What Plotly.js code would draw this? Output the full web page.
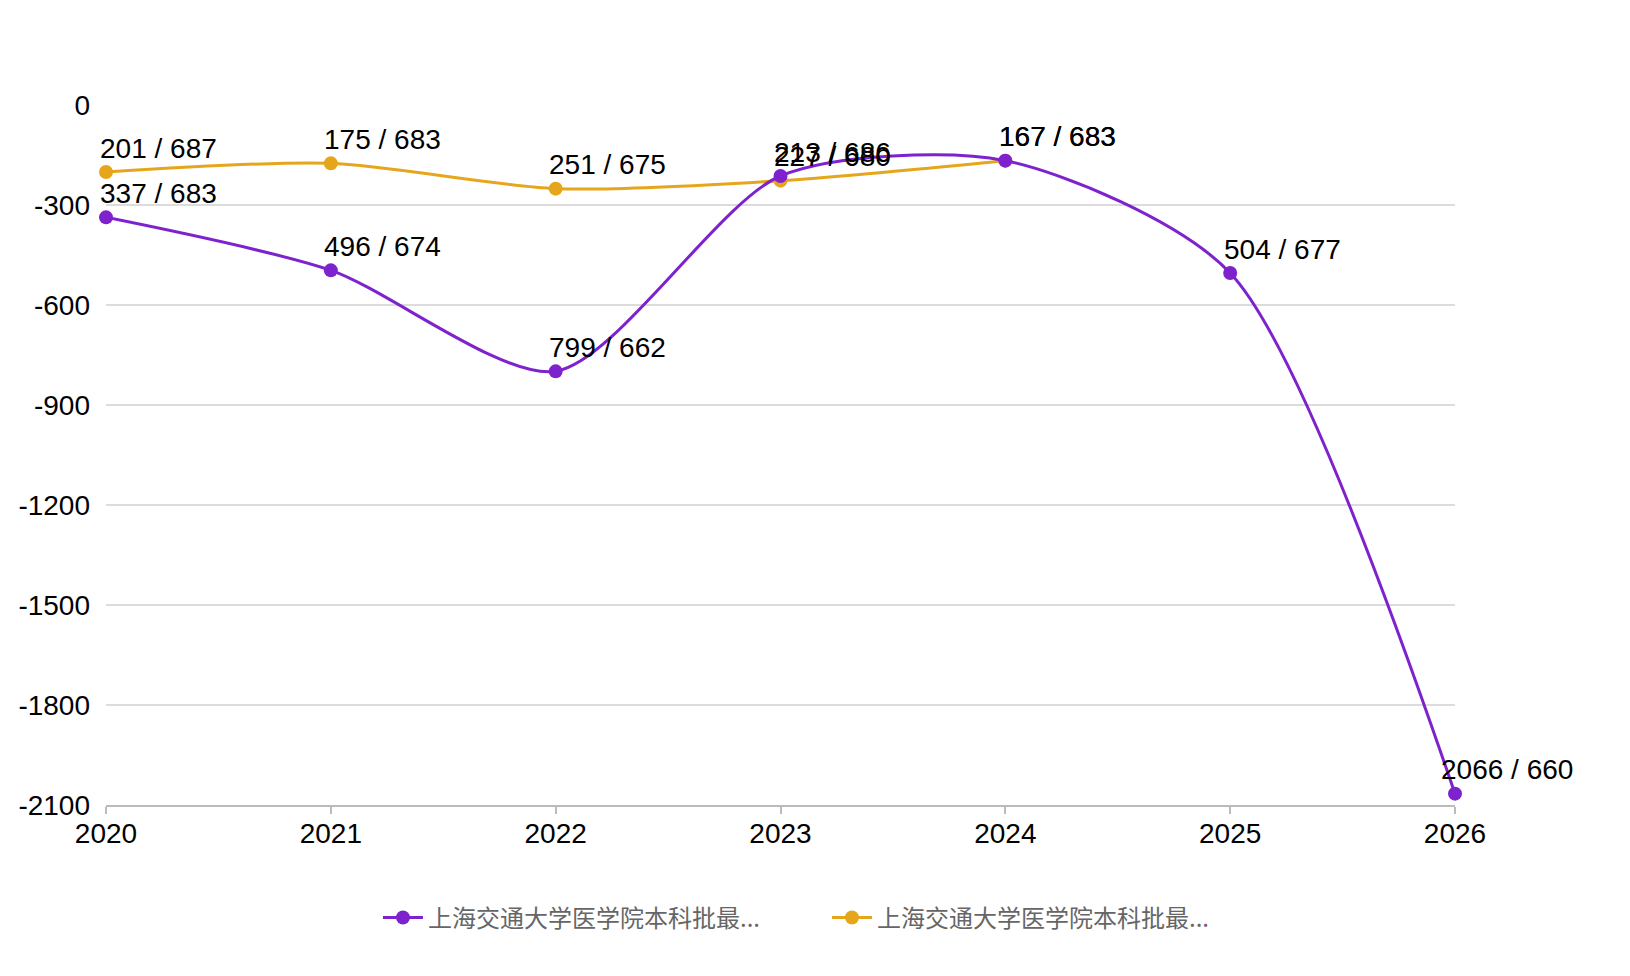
<!DOCTYPE html>
<html>
<head>
<meta charset="utf-8">
<script src="https://cdn.plot.ly/plotly-3.0.1.min.js"></script>
<style>
  html, body { margin: 0; padding: 0; background: #fff; }
  #chart { width: 1630px; height: 976px; }
</style>
</head>
<body>
<div id="chart"></div>
<script>
// années
const years = [2020, 2021, 2022, 2023, 2024, 2025, 2026];

// série 1 : rang (affiché en négatif) et score
const name1 = '上海交通大学医学院本科批最...';
const rank1 = [337, 496, 799, 213, 167, 504, 2066];
const score1 = [683, 674, 662, 686, 683, 677, 660];

// série 2
const name2 = '上海交通大学医学院本科批最...';
const rank2 = [201, 175, 251, 227, 167];
const score2 = [687, 683, 675, 680, 683];

// graduations de l'axe y
const yTicks = [0, -300, -600, -900, -1200, -1500, -1800, -2100];

const purple = '#7e22ce';
const gold = '#e6a61c';

function trace(name, ranks, color, rank) {
    return {
        x: years.slice(0, ranks.length),
        y: ranks.map(r => -r),
        name: name,
        type: 'scatter',
        mode: 'lines+markers',
        line: { color: color, width: 3, shape: 'spline', smoothing: 0.75 },
        marker: { color: color, size: 14 },
        legendrank: rank,
        cliponaxis: false
    };
}

// étiquettes "rang / score" au-dessus des points
function labels(ranks, scores) {
    return ranks.map((r, i) => ({
        x: years[i], y: -r,
        xref: 'x', yref: 'y',
        text: `${r} / ${scores[i]}`,
        showarrow: false,
        xanchor: 'center', yanchor: 'middle',
        xshift: 52, yshift: 24,
        font: { size: 28, color: '#000' }
    }));
}

let data = [trace(name2, rank2, gold, 2), trace(name1, rank1, purple, 1)];

let layout = {
    width: 1630, height: 976,
    paper_bgcolor: '#fff', plot_bgcolor: '#fff',
    font: { family: 'Helvetica, Arial, "Liberation Sans", "Noto Sans CJK SC", sans-serif', color: '#000' },
    margin: { l: 106, r: 175, t: 104, b: 171, pad: 0 },
    showlegend: true,
    legend: {
        orientation: 'h', x: 0.2016, xanchor: 'left', y: -0.161, yanchor: 'middle',
        font: { size: 24, color: '#666', family: '"Noto Sans CJK SC", sans-serif' },
        itemwidth: 40, entrywidth: 394
    },
    xaxis: {
        range: [2020, 2026],
        tickvals: years,
        showgrid: false,
        showline: true, linecolor: '#bbb', linewidth: 1.5,
        ticks: 'outside', ticklen: 7, tickcolor: '#bbb', tickwidth: 1.5,
        tickfont: { size: 28 },
        ticklabelstandoff: -4,
        zeroline: false
    },
    yaxis: {
        range: [-2100, 3],
        tickvals: yTicks,
        ticktext: yTicks.map(String),
        showgrid: true, gridcolor: '#dcdcdc', gridwidth: 1.5,
        zeroline: false,
        showline: false,
        ticks: '', ticklabelstandoff: 15,
        tickfont: { size: 28 }
    },
    annotations: labels(rank2, score2).concat(labels(rank1, score1))
};

Plotly.newPlot('chart', data, layout, { displayModeBar: false });
</script>
</body>
</html>
